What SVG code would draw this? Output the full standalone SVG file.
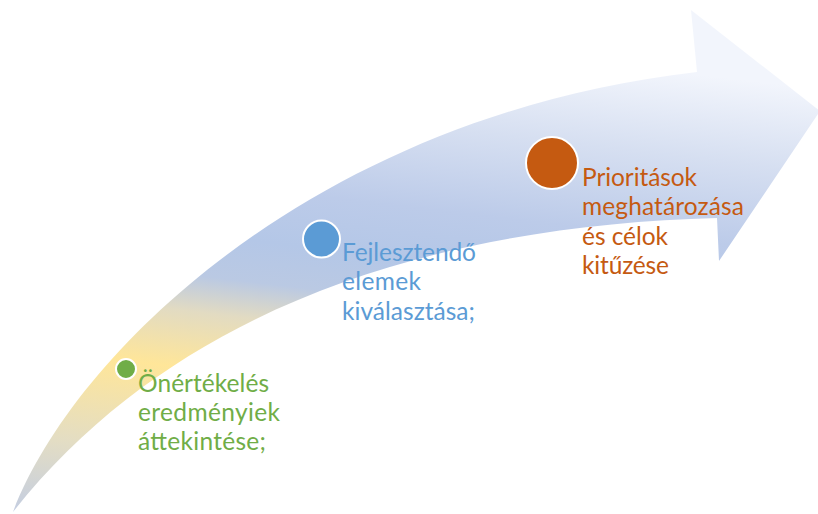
<svg xmlns="http://www.w3.org/2000/svg" width="818" height="514" viewBox="0 0 818 514">
<defs>
<linearGradient id="arrowGrad" gradientUnits="userSpaceOnUse" x1="0" y1="512" x2="60" y2="0">
<stop offset="0" stop-color="#c3cde2"/>
<stop offset="0.15" stop-color="#e3ddc4"/>
<stop offset="0.32" stop-color="#ffe699"/>
<stop offset="0.43" stop-color="#e2dbc2"/>
<stop offset="0.5" stop-color="#bac9e3"/>
<stop offset="0.58" stop-color="#b4c7e7"/>
<stop offset="0.68" stop-color="#bccbe9"/>
<stop offset="0.84" stop-color="#d6dff1"/>
<stop offset="1" stop-color="#f2f5fc"/>
</linearGradient>
<style>
.dot{stroke:#ffffff;stroke-width:2}
.lbl{font-family:Lato,"Liberation Sans",sans-serif;font-size:24.5px}
.g{fill:#70ad47}
.b{fill:#5b9bd5}
.o{fill:#c55a11}
</style>
</defs>
<rect width="818" height="514" fill="#ffffff"/>
<g id="arrow">
<path fill="url(#arrowGrad)" d="M13,512 C75,350 320,115 697,72 L691,10 L820,111 L719,261 L717,218 C450,225 180,300 13,512 Z"/>
</g>
<g id="step1">
<circle class="dot g" cx="126" cy="369" r="10"/>
<text class="lbl g"><tspan x="138" y="392" textLength="131">Önértékelés</tspan><tspan x="138" y="421" textLength="142">eredményiek</tspan><tspan x="138" y="450" textLength="128">áttekintése;</tspan></text>
</g>
<g id="step2">
<circle class="dot b" cx="321.5" cy="239" r="18.5"/>
<text class="lbl b"><tspan x="342" y="261" textLength="134">Fejlesztendő</tspan><tspan x="342" y="290" textLength="79">elemek</tspan><tspan x="342" y="320" textLength="133">kiválasztása;</tspan></text>
</g>
<g id="step3">
<circle class="dot o" cx="552" cy="163" r="26"/>
<text class="lbl o"><tspan x="582" y="186" textLength="115">Prioritások</tspan><tspan x="582" y="215" textLength="162">meghatározása</tspan><tspan x="582" y="245" textLength="86">és célok</tspan><tspan x="582" y="274" textLength="87">kitűzése</tspan></text>
</g>
</svg>
